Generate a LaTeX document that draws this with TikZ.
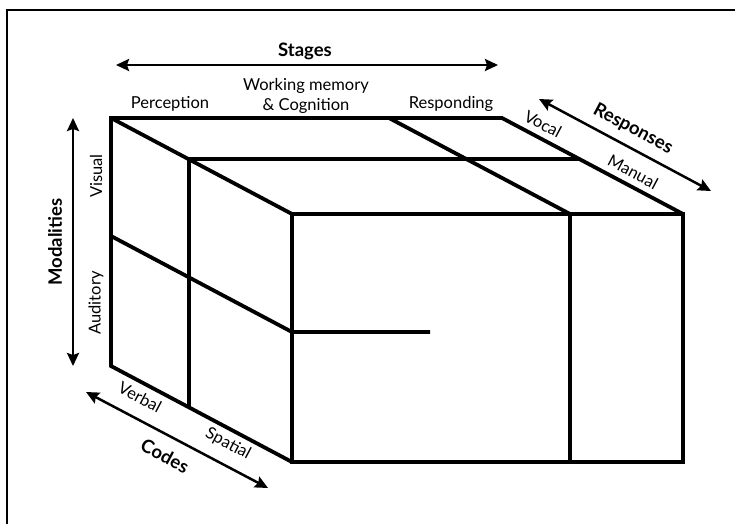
\documentclass[tikz,border=0pt]{standalone}
\usepackage{fontspec}
\setmainfont{Lato}
\usetikzlibrary{arrows.meta}

\begin{document}
\begin{tikzpicture}[%
        x=1pt, y=-1pt,
        font=\fontsize{16.5}{20}\selectfont,
        kante/.style={line width=3.8pt},
        pfeil/.style={line width=2.5pt, <->},
        titel/.style={font=\fontsize{18.5}{22}\selectfont\bfseries},
        schrift/.style={inner sep=0pt},
        >={Stealth[length=13pt,width=12pt,inset=2pt]} % Voreinstellung für Pfeilspitzen
        ]
            \useasboundingbox (0,0) rectangle (735,524);

            % Rahmen
            \draw [line width=2.5pt] (735,10) -| (7,524);

            % Eckpunkte
            \coordinate (FTL) at (292,214);
            \coordinate (FTR) at (683,214);
            \coordinate (FBR) at (683,462);
            \coordinate (FBL) at (292,462);
            \coordinate (BTL) at (111,118);
            \coordinate (BTR) at (502,118);
            \coordinate (BBL) at (111,366);

            % Teilungen
            \coordinate (SB) at (389,118);
            \coordinate (ST) at (570,214);
            \coordinate (SU) at (570,462);
            \coordinate (CL) at (189,159);
            \coordinate (CR) at (579,159);
            \coordinate (CU) at (189,407);
            \coordinate (ML) at (111,236);
            \coordinate (MF) at (292,332);
            \coordinate (ME) at (430,332);

            % Würfel
            \draw [kante]   (FBL) -- (BBL) -- (BTL) -- (BTR) -- (FTR)
                            (BTL) -- (FTL)
                            (FTL) rectangle (FBR);
            \draw [kante]   (SB) -- (ST) -- (SU)
                            (CR) -- (CL) -- (CU)
                            (ML) -- (MF) -- (ME);

            % Pfeile
            \coordinate (S1) at (116,65);
            \coordinate (S2) at (498,65);
            \coordinate (M1) at (73,118);
            \coordinate (M2) at (73,366);
            \coordinate (C1) at (86,392);
            \coordinate (C2) at (268,488);
            \coordinate (R1) at (539,99);
            \coordinate (R2) at (711,191);
            \draw [pfeil]   (S1) -- (S2);
            \draw [pfeil]   (M1) -- (M2);
            \draw [pfeil]   (C1) -- (C2);
            \draw [pfeil]   (R1) -- (R2);

            % Beschriftung
            \node (stages) [titel, schrift, anchor=base] at (305,57) {Stages};
            \node (perc) [schrift, anchor=base] at (170,109) {Perception};
            \node (wmc) [schrift, align=center] at (306,96) {Working memory\\\& Cognition};
            \node (resp) [schrift, anchor=base] at (451,109) {Responding};

            \node (modal) [titel, schrift, rotate=90] at (55,242) {Modalities};
            \node (visual) [schrift, rotate=90] at (96,176) {Visual};
            \node (audit) [schrift, rotate=90] at (96,303) {Auditory};

            \node (codes) [titel, schrift, rotate=-28] at (165,456) {Codes};
            \node (verbal) [schrift, rotate=-28] at (140,397) {Verbal};
            \node (spatial) [schrift, rotate=-28] at (228,444) {Spatial};

            \node (respo) [titel, schrift, rotate=-28] at (633,129) {Responses};
            \node (vocal) [schrift, rotate=-28] at (543,124) {Vocal};
            \node (manual) [schrift, rotate=-28] at (633,172) {Manual};
        \end{tikzpicture}
\end{document}
